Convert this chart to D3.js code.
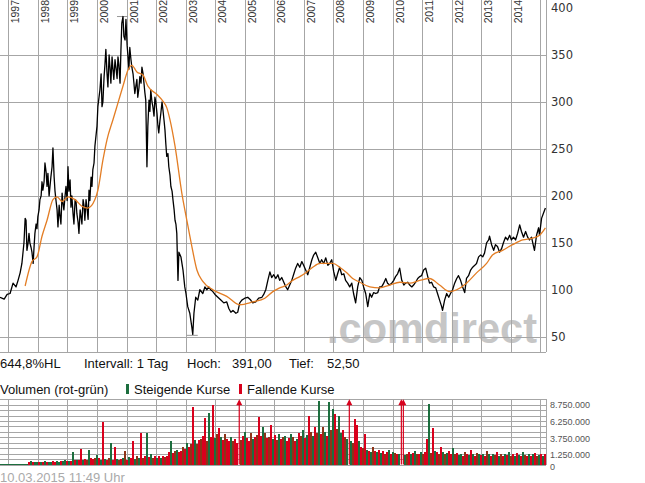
<!DOCTYPE html>
<html><head><meta charset="utf-8">
<script src="https://cdn.jsdelivr.net/npm/d3@7"></script>
<style>body{margin:0;background:#fff;} svg{display:block;}</style>
</head><body>
<svg id="c" width="645" height="483"></svg>
<script>
// ---------- DATA ----------
const years = [1997,1998,1999,2000,2001,2002,2003,2004,2005,2006,2007,2008,2009,2010,2011,2012,2013,2014,2015];
const yearLabels = ["1997","1998","1999","2000","2001","2002","2003","2004","2005","2006","2007","2008","2009","2010","2011","2012","2013","2014"];
const priceTicks = [50,100,150,200,250,300,350,400];
const priceGridTicks = [50,100,150,200,250,300,350];
const volumeTicks = [0,1.25,3.75,6.25,8.75];            // millions
const volumeTickLabels = ["0","1.250.000","3.750.000","6.250.000","8.750.000"];
const volumeGridTicks = [0,0.8,1.6,2.4,3.2,4.0,4.8,5.6,6.4,7.2,8.0,8.8,9.6];
const timeDomain = [1996.719, 2015.19];
const priceDomain = [33.7, 408.6];
const volumeMax = 9.6;

// daily close (sampled), [decimal year, value]
const priceSeries = [
[1996.72,92],[1996.86,90],[1996.96,95],[1997.06,96],[1997.16,107],[1997.26,103],[1997.33,110],[1997.40,118],
[1997.46,128],[1997.53,150],[1997.57,176],[1997.60,174],[1997.63,142],[1997.70,160],[1997.77,145],[1997.84,128],
[1997.90,160],[1998.00,178],[1998.07,196],[1998.14,215],[1998.17,206],[1998.24,235],[1998.31,210],[1998.34,224],
[1998.41,210],[1998.48,231],[1998.51,251],[1998.55,220],[1998.61,196],[1998.68,167],[1998.75,178],[1998.82,203],
[1998.88,185],[1998.95,210],[1999.02,231],[1999.09,217],[1999.12,188],[1999.19,181],[1999.26,196],[1999.32,181],
[1999.39,160],[1999.46,178],[1999.53,196],[1999.59,174],[1999.66,188],[1999.73,206],[1999.80,220],[1999.86,228],
[1999.93,253],[2000.00,274],[2000.03,295],[2000.10,313],[2000.17,295],[2000.24,327],[2000.30,356],[2000.37,316],
[2000.44,337],[2000.51,348],[2000.57,324],[2000.64,337],[2000.71,348],[2000.78,320],[2000.84,384],[2000.88,391],
[2000.95,366],[2000.98,388],[2001.05,348],[2001.11,358],[2001.18,337],[2001.25,320],[2001.28,309],[2001.35,324],
[2001.38,305],[2001.45,327],[2001.52,337],[2001.59,320],[2001.65,302],[2001.69,231],[2001.72,274],[2001.76,302],
[2001.82,313],[2001.89,295],[2001.96,305],[2002.03,288],[2002.09,267],[2002.16,288],[2002.23,292],[2002.30,270],
[2002.36,242],[2002.43,231],[2002.50,210],[2002.57,196],[2002.64,174],[2002.70,160],[2002.74,110],[2002.77,140],
[2002.84,135],[2002.91,121],[2002.97,103],[2003.01,96],[2003.07,82],[2003.14,75],[2003.21,60],[2003.24,52.5],
[2003.28,75],[2003.34,92],[2003.41,89],[2003.48,100],[2003.58,96],[2003.65,103],[2003.72,100],[2003.78,103],
[2003.85,100],[2003.92,98],[2003.99,95],[2004.09,92],[2004.19,89],[2004.29,86],[2004.39,87],[2004.46,80],
[2004.53,76],[2004.60,78],[2004.70,75],[2004.76,76],[2004.83,86],[2004.90,89],[2005.00,91],[2005.10,92],
[2005.20,89],[2005.27,86],[2005.37,87],[2005.47,91],[2005.58,92],[2005.64,95],[2005.71,100],[2005.78,110],
[2005.85,119],[2005.91,113],[2005.98,116],[2006.05,112],[2006.12,116],[2006.18,110],[2006.25,113],[2006.32,108],
[2006.39,103],[2006.45,100],[2006.52,105],[2006.59,110],[2006.66,117],[2006.72,123],[2006.79,128],[2006.86,124],
[2006.93,130],[2006.99,126],[2007.06,121],[2007.13,116],[2007.20,124],[2007.27,132],[2007.33,137],[2007.40,140],
[2007.47,134],[2007.54,128],[2007.60,132],[2007.67,128],[2007.74,134],[2007.81,126],[2007.87,128],[2007.94,132],
[2008.01,119],[2008.08,110],[2008.14,117],[2008.21,124],[2008.28,116],[2008.35,117],[2008.41,110],[2008.48,107],
[2008.55,103],[2008.62,107],[2008.68,96],[2008.75,86],[2008.82,103],[2008.89,113],[2008.96,110],[2009.02,103],
[2009.09,96],[2009.16,82],[2009.23,96],[2009.29,92],[2009.36,97],[2009.43,96],[2009.50,97],[2009.56,103],
[2009.63,103],[2009.70,107],[2009.77,112],[2009.83,107],[2009.90,105],[2009.97,107],[2010.04,110],[2010.10,114],
[2010.17,117],[2010.24,123],[2010.31,110],[2010.38,105],[2010.44,107],[2010.51,108],[2010.58,105],[2010.65,103],
[2010.71,105],[2010.78,108],[2010.85,112],[2010.92,114],[2010.98,115],[2011.05,121],[2011.12,123],[2011.19,114],
[2011.25,107],[2011.32,108],[2011.39,103],[2011.46,102],[2011.52,96],[2011.59,89],[2011.66,82],[2011.69,78],
[2011.76,89],[2011.83,96],[2011.90,92],[2011.96,96],[2012.03,100],[2012.10,107],[2012.17,112],[2012.23,115],
[2012.30,110],[2012.37,103],[2012.44,97],[2012.50,112],[2012.57,115],[2012.64,121],[2012.71,124],[2012.78,126],
[2012.84,128],[2012.91,135],[2012.98,137],[2013.05,135],[2013.11,139],[2013.18,150],[2013.25,153],[2013.28,157],
[2013.35,148],[2013.42,142],[2013.48,148],[2013.55,146],[2013.62,140],[2013.69,144],[2013.75,150],[2013.82,156],
[2013.89,153],[2013.96,158],[2014.02,153],[2014.09,156],[2014.16,153],[2014.23,160],[2014.30,169],[2014.36,162],
[2014.43,156],[2014.50,162],[2014.57,156],[2014.63,153],[2014.70,156],[2014.77,146],[2014.80,142],[2014.87,158],
[2014.94,166],[2014.97,158],[2015.04,176],[2015.11,182],[2015.17,187]
];
// extra closes read in the most volatile stretches (opposite edge of the daily band)
const priceSeriesExtra = [
[1997.67,150],[1997.73,150],[1997.80,140],[1997.87,145],[1997.94,170],[1997.97,165],[1998.04,185],[1998.11,200],
[1998.21,215],[1998.28,225],[1998.38,200],[1998.44,220],
[1998.58,205],[1998.65,185],[1998.72,190],[1998.78,170],[1998.85,192],[1998.92,200],[1998.99,195],[1999.05,205],
[1999.15,200],[1999.22,170],[1999.29,195],[1999.36,172],[1999.43,185],[1999.49,170],[1999.56,190],[1999.63,196],
[1999.70,175],[1999.76,195],[1999.83,210],[1999.90,235],
[2000.14,330],[2000.20,300],[2000.27,340],[2000.34,330],[2000.41,350],[2000.47,320],[2000.54,335],[2000.61,345],
[2000.68,325],[2000.74,340],[2000.81,355],[2000.91,370],[2001.02,360],[2001.08,335],[2001.15,345],[2001.22,330],
[2001.32,318],[2001.42,315],[2001.49,320],[2001.56,330],[2001.62,310],[2001.79,290],[2001.86,300],[2001.93,285],
[2001.99,300],[2002.06,275],[2002.13,280],[2002.20,300],[2002.27,280],[2002.33,255],[2002.40,245],[2002.47,222],
[2002.54,205],[2002.61,185],[2002.67,170]
];

// 200-day moving average, [decimal year, value]
const maSeries = [
[1997.57,104],[1997.80,130],[1997.97,135],[1998.14,157],[1998.31,174],[1998.51,196],[1998.65,199],[1998.82,194],
[1999.02,199],[1999.26,196],[1999.49,189],[1999.69,187],[1999.93,196],[2000.03,206],[2000.20,238],[2000.34,260],
[2000.54,281],[2000.71,299],[2000.88,317],[2001.05,334],[2001.18,339],[2001.35,332],[2001.55,329],[2001.72,317],
[2002.03,308],[2002.23,301],[2002.36,294],[2002.47,281],[2002.64,253],[2002.87,203],[2003.04,174],[2003.21,146],
[2003.38,121],[2003.58,109],[2003.92,100],[2004.39,93],[2004.83,84],[2005.27,87],[2005.68,91],[2005.95,98],
[2006.18,102],[2006.42,105],[2006.62,110],[2006.86,114],[2007.10,119],[2007.30,124],[2007.54,128],[2007.77,128],
[2007.98,128],[2008.21,124],[2008.45,118],[2008.65,112],[2008.89,108],[2009.23,103],[2009.56,102],[2009.90,105],
[2010.24,108],[2010.58,107],[2010.92,110],[2011.25,112],[2011.59,105],[2011.93,98],[2012.17,100],[2012.50,107],
[2012.84,118],[2013.18,128],[2013.38,137],[2013.72,142],[2014.06,148],[2014.40,153],[2014.74,155],[2014.97,158],
[2015.17,166]
];

const highValue = 391, highDate = 2000.88;
const lowValue = 52.5, lowDate = 2003.24;

// volume in millions, one bucket per period starting at volumeStart
const volumeStart = 1996.719;
const volumeBucket = 0.0677;
const volumeValues = [
0.05,0.05,0.05,0.05,0.05,0.05,0.05,0.05,0.05,0.05,
0.05,0.05,0.08,0.1,0.4,0.5,0.3,0.4,0.35,0.3,
0.4,0.3,0.45,0.35,0.3,0.4,0.5,0.35,0.45,0.4,
0.5,0.45,0.6,0.5,0.55,0.5,1.9,0.6,0.7,0.6,
2.3,0.7,0.8,0.7,2.2,0.9,0.8,1.0,1.4,0.9,
0.7,6.2,0.8,0.6,0.9,3.2,0.7,2.5,0.8,0.7,
0.8,1.0,2.0,0.7,1.1,0.9,3.5,0.8,1.2,0.9,
4.7,1.0,1.3,4.7,1.1,1.6,0.9,1.2,1.0,1.3,
0.9,1.2,1.1,1.3,1.8,3.4,1.7,2.0,2.2,1.9,
2.0,2.6,2.3,3.2,2.6,3.0,8.5,3.6,3.0,3.6,
3.8,4.2,6.8,3.5,7.6,4.0,8.8,3.9,4.5,5.3,
4.1,3.6,4.5,3.8,3.4,4.0,3.5,3.8,3.2,12,
3.6,4.2,4.8,3.9,3.5,4.6,3.8,4.0,4.3,7.0,
4.2,5.5,4.6,3.9,4.1,5.8,3.7,4.4,3.6,4.5,
3.8,4.1,4.2,3.5,3.9,4.5,4.0,3.4,3.8,4.6,
4.2,5.0,3.9,4.4,7.1,4.8,4.2,5.5,4.6,9.4,
4.5,5.5,4.8,4.2,9.2,5.0,8.1,7.4,5.2,7.2,
4.6,5.0,4.0,3.8,12,3.5,3.2,6.7,5.8,3.4,
2.6,2.4,4.5,2.2,2.0,1.9,2.6,2.0,1.8,2.1,
1.7,2.0,1.6,1.9,2.1,1.5,1.8,1.7,1.5,1.6,
12,12,1.4,1.6,1.8,1.5,1.7,2.0,1.6,1.5,
1.8,1.6,1.9,3.8,8.9,1.7,5.3,2.0,1.8,1.6,
2.6,1.8,1.5,1.7,2.0,1.6,2.4,1.5,1.7,1.4,
1.6,1.3,1.8,1.5,1.4,2.2,1.6,1.3,1.7,1.5,
1.4,1.6,1.3,2.0,1.5,1.2,1.6,1.4,1.8,1.3,
1.5,1.2,1.6,1.4,1.9,1.3,1.5,1.2,1.7,1.4,
1.3,1.8,1.4,1.2,1.6,1.3,1.5,1.7,1.2,1.4,1.6,1.3,1.5
];
// g = steigend (green), r = fallend (red), b = overlap (brown)
const volumeColorCodes =
"gggggggggg"+"ggggrgrggr"+"grgrggrrgg"+"rggrgrgrgr"+"rgrbgrrbgr"+
"grgrbgrrgb"+"rgbrgrrgbg"+"rbrgrgbrgr"+"grbrrgrbgr"+"rbrgrbrgbr"+
"brrbgrrgbr"+"grbrrgbrrr"+"brgrrbgrbr"+"rgbrbrgrbg"+"rbgrrgbrgr"+
"bgrgrbgrbg"+"rbgrgbgrbg"+"grbgrgbrrg"+"rbrgrgbrgr"+"grbrgrgbrg"+
"rrgbrgrgbr"+"gbrrgbrgrb"+"rgbgrrgbrg"+"grbrgrgrbg"+"rgrbgrgbrg"+
"brgrgbrgrg"+"rgbrgrgrbg"+"rgr";

const infoRow = [["644,8%HL",0],["Intervall: 1 Tag",84],["Hoch:",187],["391,00",232],["Tief:",289],["52,50",327]];
const legendRow = [["Volumen (rot-grün)",0],["Steigende Kurse",134],["Fallende Kurse",247]];
const timestamp = "10.03.2015 11:49 Uhr";
const watermark = ".comdirect";

// ---------- DRAW ----------
const svg = d3.select("#c");
const plotRight = 546;
const x = d3.scaleLinear().domain(timeDomain).range([0, plotRight]);
const yP = d3.scaleLinear().domain(priceDomain).range([352, 0]);
const yV = d3.scaleLinear().domain([0, volumeMax]).range([464.5, 399.2]);
const gridColor = "#a6a6a6";
const sansA = "'Liberation Sans', Arial, sans-serif";
const sansV = "'DejaVu Sans', Verdana, sans-serif";
const colorMap = {g:"#1c6e3e", r:"#d8001c", b:"#8e3318"};
const px = v => Math.round(v) + 0.5;

// watermark
svg.append("text").attr("x", 327).attr("y", 343)
  .attr("font-family", sansA).attr("font-weight", "bold").attr("font-size", 42)
  .attr("fill", "#c6c6c6").attr("textLength", 210).attr("lengthAdjust", "spacingAndGlyphs")
  .text(watermark);

// price grid
const gP = svg.append("g").attr("stroke", gridColor).attr("stroke-width", 1).attr("shape-rendering","crispEdges");
gP.selectAll("line.v").data(years).join("line")
  .attr("x1", d => px(x(d))).attr("x2", d => px(x(d))).attr("y1", 0).attr("y2", 352);
gP.selectAll("line.h").data(priceGridTicks).join("line").attr("class","h")
  .attr("x1", 0).attr("x2", plotRight).attr("y1", d => px(yP(d))).attr("y2", d => px(yP(d)));
gP.append("line").attr("x1",0).attr("x2",plotRight).attr("y1",352.5).attr("y2",352.5);
gP.append("line").attr("x1",plotRight+0.5).attr("x2",plotRight+0.5).attr("y1",0).attr("y2",352);

// year labels
svg.append("g").selectAll("text").data(yearLabels).join("text")
  .attr("transform", d => `translate(${x(+d) + 11},0) rotate(-90)`)
  .attr("text-anchor", "end").attr("font-family", sansA).attr("font-size", 10.5)
  .attr("fill", "#333").text(d => d);

// price axis
const axP = svg.append("g").attr("transform", `translate(${plotRight},0)`)
  .call(d3.axisRight(yP).tickValues(priceTicks).tickSize(0).tickPadding(5));
axP.select(".domain").remove();
axP.selectAll("text").attr("font-family", sansV).attr("font-size", 11.5).attr("fill", "#333");

// high / low markers
svg.append("line").attr("x1", x(highDate)-6).attr("x2", x(highDate)+5)
  .attr("y1", yP(highValue)).attr("y2", yP(highValue)).attr("stroke", "#999");
svg.append("line").attr("x1", x(lowDate)-6).attr("x2", x(lowDate)+5)
  .attr("y1", yP(lowValue)+1).attr("y2", yP(lowValue)+1).attr("stroke", "#999");

// price line
const allPrices = d3.sort(priceSeries.concat(priceSeriesExtra), d => d[0]);
const line = d3.line().x(d => x(d[0])).y(d => yP(d[1]));
svg.append("path").datum(allPrices).attr("d", line)
  .attr("fill", "none").attr("stroke", "#000").attr("stroke-width", 1.3).attr("stroke-linejoin","round");
svg.append("path").datum(maSeries).attr("d", line.curve(d3.curveMonotoneX))
  .attr("fill", "none").attr("stroke", "#e37d24").attr("stroke-width", 1.3);

// info rows
svg.append("g").selectAll("text").data(infoRow).join("text")
  .attr("x", d => d[1]).attr("y", 368).attr("font-family", sansA).attr("font-size", 13)
  .attr("fill", "#111").text(d => d[0]);
svg.append("g").selectAll("text").data(legendRow).join("text")
  .attr("x", d => d[1]).attr("y", 393.5).attr("font-family", sansA).attr("font-size", 13)
  .attr("fill", "#111").text(d => d[0]);
svg.append("rect").attr("x",126).attr("y",384).attr("width",3).attr("height",10).attr("fill",colorMap.g);
svg.append("rect").attr("x",239).attr("y",384).attr("width",3).attr("height",10).attr("fill",colorMap.r);

// volume grid
const gV = svg.append("g").attr("stroke", gridColor).attr("stroke-width", 1).attr("shape-rendering","crispEdges");
gV.selectAll("line.v").data(years).join("line")
  .attr("x1", d => px(x(d))).attr("x2", d => px(x(d))).attr("y1", yV(volumeMax)).attr("y2", yV(0));
gV.selectAll("line.h").data(volumeGridTicks).join("line").attr("class","h")
  .attr("x1", 0).attr("x2", plotRight).attr("y1", d => px(yV(d))).attr("y2", d => px(yV(d)));
gV.append("line").attr("x1",plotRight+0.5).attr("x2",plotRight+0.5).attr("y1",yV(volumeMax)).attr("y2",yV(0));

// volume bars
const vol = volumeValues.map((v,i) => ({t: volumeStart + i*volumeBucket, v, c: volumeColorCodes[i] || "g"}));
const bw = x(volumeStart + volumeBucket) - x(volumeStart);
svg.append("g").attr("shape-rendering","crispEdges").selectAll("rect").data(vol.filter(d => d.v <= volumeMax)).join("rect")
  .attr("x", d => x(d.t)).attr("width", bw)
  .attr("y", d => yV(d.v)).attr("height", d => yV(0) - yV(d.v))
  .attr("fill", d => colorMap[d.c]);
const over = vol.filter(d => d.v > volumeMax);
const gA = svg.append("g");
gA.selectAll("rect").data(over).join("rect")
  .attr("x", d => x(d.t)+0.5).attr("width", 1.2)
  .attr("y", yV(volumeMax)+2).attr("height", yV(0) - yV(volumeMax) - 2)
  .attr("fill", colorMap.r);
gA.selectAll("path").data(over).join("path")
  .attr("d", d => { const cx = x(d.t)+1.1, top = yV(volumeMax); return `M${cx},${top} L${cx-3},${top+6} L${cx+3},${top+6} Z`; })
  .attr("fill", colorMap.r);

// volume axis
const axV = svg.append("g").attr("transform", `translate(${plotRight},0)`)
  .call(d3.axisRight(yV).tickValues(volumeTicks).tickSize(0).tickPadding(4)
    .tickFormat((d,i) => volumeTickLabels[i]));
axV.select(".domain").remove();
axV.selectAll("text").attr("font-family", sansA).attr("font-size", 9).attr("fill", "#555")
  .attr("dy", d => d === 0 ? "0.55em" : (d === 1.25 ? "0.2em" : "0.32em"));

// timestamp
svg.append("text").attr("x", 0).attr("y", 481.5).attr("font-family", sansA).attr("font-size", 13)
  .attr("fill", "#aaa").text(timestamp);
</script>
</body></html>
